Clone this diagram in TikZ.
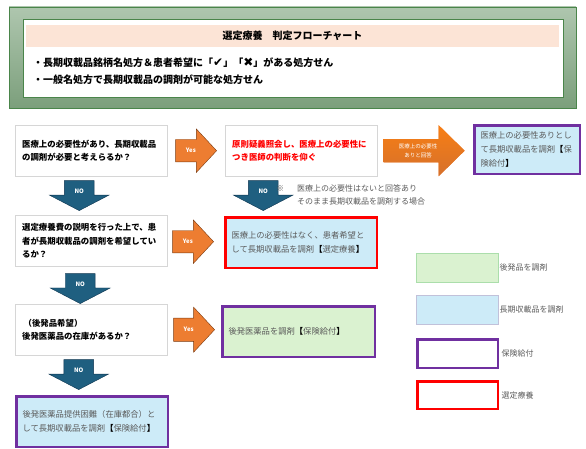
\documentclass[tikz,border=0pt]{standalone}
\usepackage{fontspec}
\usepackage{graphicx}
\setmainfont{Noto Sans CJK JP}
\newfontfamily\symfont{DejaVu Sans}
\usetikzlibrary{calc,shapes.arrows}

\definecolor{frameedge}{HTML}{4A854A}
\definecolor{frametop}{HTML}{AEC6AE}
\definecolor{framebot}{HTML}{7C9F7C}
\definecolor{titlepink}{HTML}{FCE4D6}
\definecolor{boxgray}{HTML}{D6D6D6}
\definecolor{textgray}{HTML}{5A5A5A}
\definecolor{lightblue}{HTML}{CDEBF8}
\definecolor{lightgreen}{HTML}{DAF2D0}
\definecolor{insured}{HTML}{7030A0}
\definecolor{selected}{HTML}{FF0000}
\definecolor{yesorange}{HTML}{ED7D31}
\definecolor{yesedge}{HTML}{7A3A10}
\definecolor{noblue}{HTML}{1F5F80}
\definecolor{noedge}{HTML}{0E3550}

\begin{document}
\begin{tikzpicture}[x=1pt, y=-1pt,
    question/.style = {draw=boxgray, fill=white, anchor=north west, text width=138pt, inner xsep=7pt, inner ysep=0pt, minimum height=51pt, align=left, font=\fontsize{8.4}{13.5}\selectfont\bfseries},
    result/.style = {fill=lightblue, anchor=north west, inner xsep=6pt, inner ysep=0pt, align=left, text=textgray, font=\fontsize{8.3}{14}\selectfont},
    insurance/.style = {draw=insured, line width=2.5pt},
    choice/.style = {draw=selected, line width=2.5pt},
    yesarrow/.style = {single arrow, draw=yesedge, fill=yesorange, anchor=tail, minimum height=41pt, minimum width=43pt, single arrow head extend=10.5pt, single arrow tip angle=94, inner xsep=0pt, inner ysep=8.75pt, text height=4.5pt, text depth=0pt, text=white, font=\fontsize{6}{6}\selectfont\bfseries},
    noarrow/.style = {single arrow, rotate=-90, draw=noedge, fill=noblue, anchor=tail, minimum height=30pt, minimum width=58pt, single arrow head extend=15pt, single arrow tip angle=125, inner xsep=0pt, inner ysep=10pt, text=white, font=\fontsize{6}{6}\selectfont\bfseries},
    legend/.style = {anchor=north west, minimum width=82pt, minimum height=29pt, inner sep=0pt},
    legendtext/.style = {anchor=west, inner sep=1pt, text=textgray, font=\fontsize{8}{8}\selectfont}
    ]
    \useasboundingbox (0,0) rectangle (586,449);

    % Header
    \draw[frameedge, top color=frametop, bottom color=framebot] (9,7) rectangle (576,108);
    \draw[frameedge, fill=white, line width=0.8pt] (23,19) rectangle (563,97);
    \node[fill=titlepink, minimum width=533pt, minimum height=22pt, inner sep=0pt, font=\fontsize{10}{10}\selectfont\bfseries] (title) at (292.5,36) {選定療養　判定フローチャート};
    \node[anchor=west, inner sep=0pt, font=\fontsize{10}{10}\selectfont\bfseries] (cond1) at (33,63) {・長期収載品銘柄名処方＆患者希望に「{\symfont\fontsize{12}{12}\selectfont ✔}」「{\symfont\fontsize{12}{12}\selectfont ✖}」がある処方せん};
    \node[anchor=west, inner sep=0pt, font=\fontsize{10}{10}\selectfont\bfseries] (cond2) at (33,80) {・一般名処方で長期収載品の調剤が可能な処方せん};

    % Nodes
    \node[question] (q1) at (15,125) {医療上の必要性があり、長期収載品\\の調剤が必要と考えらるか？};
    \node[question] (q2) at (15,215) {選定療養費の説明を行った上で、患\\者が長期収載品の調剤を希望してい\\るか？};
    \node[question] (q3) at (15,304) {\,（後発品希望）\\後発医薬品の在庫があるか？};
    \node[question, text=selected] (ask) at (225,125) {原則疑義照会し、医療上の必要性に\\つき医師の判断を仰ぐ};

    \node[result, insurance, text width=93.5pt, minimum height=48.5pt] (p1) at (473.25,124.25) {医療上の必要性ありとし\\て長期収載品を調剤{\color{black}\bfseries【}保\\険給付{\color{black}\bfseries】}};
    \node[result, choice, text width=139.5pt, minimum height=50.5pt] (s1) at (224.25,216.25) {医療上の必要性はなく、患者希望と\\して長期収載品を調剤{\color{black}\bfseries【}選定療養{\color{black}\bfseries】}};
    \node[result, insurance, fill=lightgreen, text width=140.5pt, minimum height=50.5pt] (g1) at (221.25,305.25) {後発医薬品を調剤{\color{black}\bfseries【}保険給付{\color{black}\bfseries】}};
    \node[result, insurance, text width=139.5pt, minimum height=50.5pt] (b1) at (15.25,395.25) {後発医薬品提供困難（在庫都合）と\\して長期収載品を調剤{\color{black}\bfseries【}保険給付{\color{black}\bfseries】}};

    % Arrows
    \node[yesarrow] (y1) at ($(q1.east)+(8,0)$) {Yes};
    \node[yesarrow] (y2) at ($(q2.east)+(5,1)$) {Yes};
    \node[yesarrow, minimum width=45pt] (y3) at ($(q3.east)+(6,0)$) {Yes};
    \node[single arrow, fill=yesorange, top color=orange!60!yesorange, bottom color=yesorange!90!black, anchor=tail, minimum height=81pt, minimum width=51pt, single arrow head extend=11pt, single arrow tip angle=89, inner xsep=2pt, inner ysep=2pt, text=white, align=center, font=\fontsize{5.5}{9}\selectfont] (yes2) at ($(ask.east)+(6,0)$) {医療上の必要性\\ありと回答};
    \node[noarrow] (n1) at ($(q1.south)+(-12,4)$) {\rotatebox{90}{NO}};
    \node[noarrow, minimum width=55pt] (n2) at ($(ask.south)+(-38,4)$) {\rotatebox{90}{NO}};
    \node[noarrow, minimum width=60pt] (n3) at ($(q2.south)+(-11,7)$) {\rotatebox{90}{NO}};
    \node[noarrow] (n4) at ($(q3.south)+(-12.5,4)$) {\rotatebox{90}{NO}};

    \node[anchor=north west, inner sep=0pt, align=left, text=textgray, font=\fontsize{8}{13}\selectfont] (note) at (276,184) {\makebox[21pt][l]{※}医療上の必要性はないと回答あり\\\hspace*{21pt}そのまま長期収載品を調剤する場合};

    % Legend
    \node[legend, fill=lightgreen, draw=green!20!boxgray] (lg) at (416,253) {};
    \node[legend, fill=lightblue, draw=blue!10!boxgray] (lb) at (416,295) {};
    \node[legend, insurance, fill=white, minimum width=80.5pt, minimum height=28.5pt] (lp) at (416.25,338.25) {};
    \node[legend, choice, fill=white, minimum width=80.5pt, minimum height=27.5pt] (lr) at (416.25,380.25) {};
    \node[legendtext] at (lg.east) {後発品を調剤};
    \node[legendtext] at (lb.east) {長期収載品を調剤};
    \node[legendtext] at ($(lp.east)+(1.25,0)$) {保険給付};
    \node[legendtext] at ($(lr.east)+(1.25,0)$) {選定療養};

\end{tikzpicture}
\end{document}
